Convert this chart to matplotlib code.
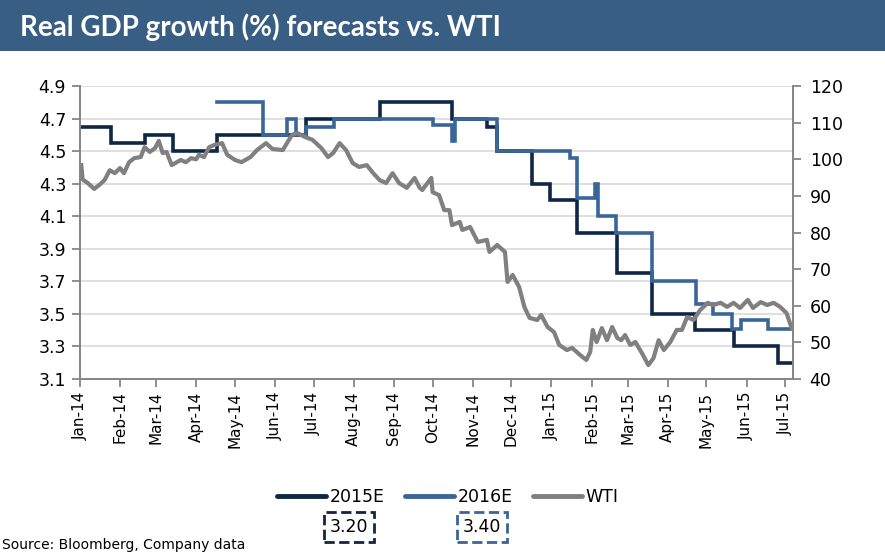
import numpy as np
import pandas as pd
import matplotlib
matplotlib.use('Agg')
import matplotlib.pyplot as plt
import matplotlib.dates as mdates
from matplotlib.lines import Line2D

# step forecasts: date of change, new value
gdp15_dates = ['2014-01-01', '2014-01-25', '2014-02-20', '2014-03-14', '2014-04-17',
               '2014-06-25', '2014-08-21', '2014-10-16', '2014-11-12', '2014-11-20',
               '2014-12-17', '2014-12-31', '2015-01-21', '2015-02-21', '2015-03-20',
               '2015-04-22', '2015-05-22', '2015-06-25', '2015-07-06']
gdp15_vals = [4.65, 4.55, 4.60, 4.50, 4.60,
              4.70, 4.80, 4.70, 4.65, 4.50,
              4.30, 4.20, 4.00, 3.75, 3.50,
              3.40, 3.30, 3.20, 3.20]

gdp16_dates = ['2014-04-17', '2014-05-23', '2014-06-10', '2014-06-17', '2014-06-25',
               '2014-07-17', '2014-10-01', '2014-10-16', '2014-10-18', '2014-11-20',
               '2015-01-15', '2015-01-21', '2015-02-04', '2015-02-06', '2015-02-20',
               '2015-03-20', '2015-04-23', '2015-05-06', '2015-05-21', '2015-05-28',
               '2015-06-18', '2015-07-06']
gdp16_vals = [4.80, 4.60, 4.70, 4.60, 4.65,
              4.70, 4.66, 4.56, 4.70, 4.50,
              4.46, 4.21, 4.30, 4.10, 4.00,
              3.70, 3.56, 3.50, 3.41, 3.46,
              3.41, 3.41]

wti_dates = ['2014-01-02', '2014-01-03', '2014-01-07', '2014-01-12', '2014-01-16', '2014-01-20',
             '2014-01-24', '2014-01-28', '2014-02-01', '2014-02-04', '2014-02-08', '2014-02-12',
             '2014-02-17', '2014-02-20', '2014-02-24', '2014-02-28', '2014-03-03', '2014-03-06',
             '2014-03-09', '2014-03-13', '2014-03-16', '2014-03-20', '2014-03-24', '2014-03-28',
             '2014-04-01', '2014-04-03', '2014-04-07', '2014-04-11', '2014-04-15', '2014-04-21',
             '2014-04-25', '2014-05-01', '2014-05-06', '2014-05-13', '2014-05-18', '2014-05-25',
             '2014-05-30', '2014-06-07', '2014-06-14', '2014-06-18', '2014-06-24', '2014-06-30',
             '2014-07-07', '2014-07-12', '2014-07-16', '2014-07-21', '2014-07-26', '2014-07-31',
             '2014-08-05', '2014-08-11', '2014-08-16', '2014-08-21', '2014-08-26', '2014-08-31',
             '2014-09-05', '2014-09-11', '2014-09-17', '2014-09-21', '2014-09-23', '2014-09-30',
             '2014-10-01', '2014-10-06', '2014-10-10', '2014-10-14', '2014-10-16', '2014-10-22',
             '2014-10-24', '2014-10-30', '2014-11-05', '2014-11-12', '2014-11-14', '2014-11-20',
             '2014-11-26', '2014-11-28', '2014-12-02', '2014-12-07', '2014-12-11', '2014-12-15',
             '2014-12-21', '2014-12-24', '2014-12-29', '2015-01-03', '2015-01-07', '2015-01-13',
             '2015-01-17', '2015-01-23', '2015-01-28', '2015-01-31', '2015-02-02', '2015-02-05',
             '2015-02-09', '2015-02-13', '2015-02-17', '2015-02-21', '2015-02-24', '2015-02-27',
             '2015-03-03', '2015-03-07', '2015-03-12', '2015-03-17', '2015-03-21', '2015-03-25',
             '2015-03-29', '2015-04-03', '2015-04-08', '2015-04-12', '2015-04-16', '2015-04-21',
             '2015-04-26', '2015-05-02', '2015-05-06', '2015-05-12', '2015-05-17', '2015-05-22',
             '2015-05-27', '2015-06-02', '2015-06-06', '2015-06-12', '2015-06-17', '2015-06-22',
             '2015-06-27', '2015-07-02', '2015-07-06']
wti_vals = [98.4, 94.5, 93.5, 91.9, 93.0, 94.3,
            97.0, 96.2, 97.6, 96.2, 99.2, 100.3,
            100.6, 103.3, 102.0, 103.0, 105.0, 101.7,
            102.0, 98.4, 99.0, 99.8, 99.2, 100.3,
            100.0, 101.2, 100.6, 103.3, 103.9, 104.4,
            101.2, 99.8, 99.2, 100.6, 102.5, 104.4,
            102.8, 102.5, 106.6, 107.2, 106.1, 105.3,
            103.0, 100.6, 101.7, 104.4, 102.5, 99.0,
            97.9, 98.4, 96.2, 94.3, 93.5, 96.2,
            93.5, 92.2, 94.9, 92.2, 91.6, 94.9,
            91.0, 90.2, 86.1, 86.1, 82.0, 82.9,
            80.7, 81.5, 77.4, 78.0, 74.7, 76.6,
            74.7, 66.5, 68.4, 65.1, 59.7, 56.7,
            56.1, 57.5, 54.2, 52.8, 49.3, 47.9,
            48.5, 46.6, 45.2, 47.4, 53.4, 50.1,
            53.9, 50.6, 54.2, 51.2, 50.6, 52.0,
            49.3, 50.1, 47.1, 43.8, 45.7, 50.6,
            47.9, 50.1, 53.4, 53.4, 56.9, 56.1,
            58.8, 60.8, 60.2, 60.8, 59.7, 60.8,
            59.4, 61.6, 59.4, 61.0, 60.2, 60.8,
            59.7, 58.0, 53.9]

last_2015E = '3.20'
last_2016E = '3.40'

NAVY = '#0f2645'
BLUE = '#3a6598'
GREY = '#808080'
AXIS = '#868686'

fig = plt.figure(figsize=(8.85, 5.54), dpi=100)
fig.patch.set_facecolor('white')

# title bar
fig.patches.append(plt.Rectangle((0, 1 - 51 / 554), 1, 51 / 554, transform=fig.transFigure,
                                 facecolor='#395e84', edgecolor='none'))
fig.text(20 / 885, 1 - 27 / 554, 'Real GDP growth (%) forecasts vs. WTI', color='white',
         fontsize=20, fontweight='bold', family='Lato', va='center', ha='left')

ax = fig.add_axes([80 / 885, 1 - 379 / 554, 713 / 885, 293 / 554])
ax2 = ax.twinx()

ax.plot(pd.to_datetime(gdp15_dates), gdp15_vals, drawstyle='steps-post', color=NAVY, lw=2.6,
        solid_joinstyle='miter')
ax.plot(pd.to_datetime(gdp16_dates), gdp16_vals, drawstyle='steps-post', color=BLUE, lw=2.6,
        solid_joinstyle='miter')
ax2.plot(pd.to_datetime(wti_dates), wti_vals, color=GREY, lw=3)

ax.set_xlim(pd.Timestamp('2014-01-01'), pd.Timestamp('2015-07-07'))
ax.set_ylim(3.1, 4.9)
ax.set_yticks(np.arange(3.1, 4.95, 0.2))
ax.yaxis.set_major_formatter(matplotlib.ticker.FormatStrFormatter('%.1f'))
ax2.set_ylim(40, 120)
ax2.set_yticks(np.arange(40, 121, 10))

ax.xaxis.set_major_locator(mdates.MonthLocator())
ax.xaxis.set_major_formatter(mdates.DateFormatter('%b-%y'))
for lbl in ax.get_xticklabels():
    lbl.set_rotation(90)

ax.grid(axis='y', color='#d9d9d9', lw=1.2)
ax.set_axisbelow(True)

for a in (ax, ax2):
    a.spines['top'].set_visible(False)
    for s in ('left', 'right', 'bottom'):
        a.spines[s].set_color(AXIS)
        a.spines[s].set_linewidth(1.3)
    a.tick_params(colors=AXIS, labelcolor='black', width=1.3, length=6, direction='out')
ax.tick_params(axis='y', labelsize=12.5, pad=4)
ax2.tick_params(axis='y', labelsize=12.5, pad=6)
ax.tick_params(axis='x', labelsize=11, pad=3)

handles = [Line2D([], [], color=NAVY, lw=3.5, solid_capstyle='round'),
           Line2D([], [], color=BLUE, lw=3.5, solid_capstyle='round'),
           Line2D([], [], color=GREY, lw=3.5, solid_capstyle='round')]
fig.legend(handles, ['2015E', '2016E', 'WTI'], loc='center', bbox_to_anchor=(448 / 885, 1 - 497 / 554),
           ncol=3, frameon=False, fontsize=12.5, handlelength=2.8, handletextpad=0.2,
           columnspacing=1.2)

fig.text(349 / 885, 1 - 527 / 554, last_2015E, ha='center', va='center', fontsize=12.5,
         bbox=dict(boxstyle='square,pad=0.35', fc='white', ec=NAVY, ls='--', lw=2))
fig.text(482 / 885, 1 - 527 / 554, last_2016E, ha='center', va='center', fontsize=12.5,
         bbox=dict(boxstyle='square,pad=0.35', fc='white', ec=BLUE, ls='--', lw=2))

fig.text(2 / 885, 2 / 554, 'Source: Bloomberg, Company data', fontsize=10, va='bottom', ha='left')

fig.savefig('out.png', dpi=100)
